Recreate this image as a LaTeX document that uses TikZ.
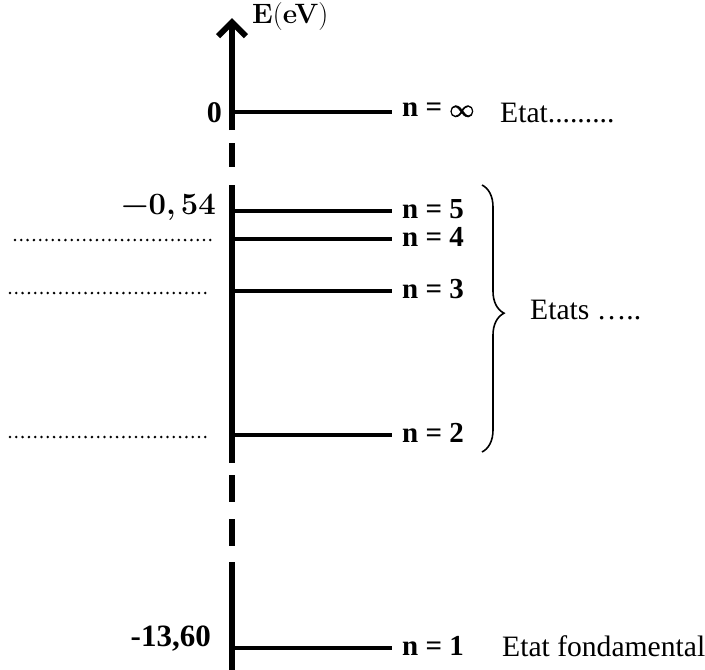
\documentclass[tikz,border=0pt]{standalone}
\usepackage{amsmath,amssymb}
\usepackage[no-math]{fontspec}
\setmainfont{Liberation Serif}
\newfontfamily\lmfont{Latin Modern Roman}
\newfontfamily\lmmath[FakeBold=2.5]{Latin Modern Math}
\usetikzlibrary{arrows.meta,positioning,decorations.pathreplacing}

\begin{document}
\begin{tikzpicture}[x=1pt,y=-1pt,
  axe/.style={line width=6pt},
  niveau/.style={line width=3.2pt},
  nlab/.style={anchor=west,inner sep=0pt,font=\fontsize{29}{32}\selectfont\bfseries},
  elab/.style={anchor=east,inner sep=0pt,font=\fontsize{31}{34}\selectfont\bfseries},
  etat/.style={anchor=west,inner sep=0pt,font=\fontsize{29.6}{32}\selectfont},
  pointilles/.style={line width=2.8pt,line cap=round,dash pattern=on 0pt off 6.3pt}]
\useasboundingbox (0,0) rectangle (705,670);

% axe des energies
\coordinate (top) at (232,18);
\draw[axe,-{Straight Barb[length=14pt,width=28pt]}] (232,130) -- (top);
\draw[axe] (232,143) -- (232,167);
\draw[axe] (232,185) -- (232,463);
\draw[axe] (232,475) -- (232,502);
\draw[axe] (232,519) -- (232,546);
\draw[axe] (232,562) -- (232,670);
\node[anchor=west,inner sep=0pt,font=\fontsize{28}{32}\selectfont\lmfont] (E) at (252,17) {\textbf{E}(\textbf{eV})};

% niveaux
\foreach \y/\k/\t in {112/inf/{n = {\lmmath\fontsize{25}{25}\selectfont\bfseries ∞}}, 211/5/{n = 5}, 239/4/{n = 4},
                      291/3/{n = 3}, 435/2/{n = 2}, 648/1/{n = 1}} {
  \coordinate (l\k) at (232,\y);
  \draw[niveau] (l\k) -- ++(160,0) coordinate (r\k);
  \node[nlab,right=10pt of r\k,yshift=2pt] (n\k) {\t};
}

% valeurs
\node[elab,font=\fontsize{30}{32}\selectfont\bfseries] (v0) at (222,113) {0};
\node[elab,font=\fontsize{31}{34}\selectfont\lmfont\bfseries] (v5) at (216,207) {−0,\,54};
\node[elab] (v1) at (211,639) {-13,60};

% a completer
\draw[pointilles] (15,240) -- (213,240);
\draw[pointilles] (10,293) -- (208,293);
\draw[pointilles] (10,437) -- (208,437);

% etats
\node[etat] (ei) at (500,113) {Etat.........};
\coordinate (bh) at (482,185);
\coordinate (bb) at (482,452);
\draw[line width=1.6pt,decorate,decoration={brace,amplitude=22pt,aspect=0.48}] (bh) -- (bb);
\node[etat] (ee) at (530,310) {Etats …..};
\node[etat] (ef) at (502,646) {Etat fondamental};
\end{tikzpicture}
\end{document}
